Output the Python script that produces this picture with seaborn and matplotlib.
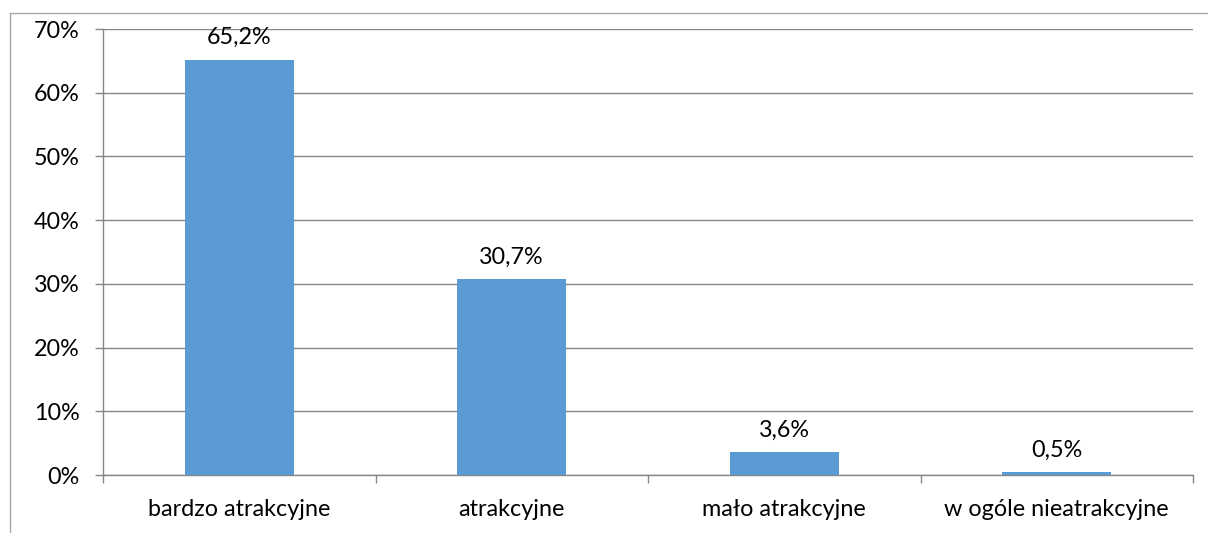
import matplotlib
matplotlib.use("Agg")
import matplotlib.pyplot as plt
from matplotlib.lines import Line2D
from matplotlib.ticker import FuncFormatter, MultipleLocator
import seaborn as sns
import pandas as pd

categories = ["bardzo atrakcyjne", "atrakcyjne", "mało atrakcyjne", "w ogóle nieatrakcyjne"]
values = [65.2, 30.7, 3.6, 0.5]
value_labels = ["65,2%", "30,7%", "3,6%", "0,5%"]

sns.set_theme(style="white")
plt.rcParams["font.family"] = ["Lato", "DejaVu Sans"]

W, H = 1208, 533
fig = plt.figure(figsize=(W / 100, H / 100), dpi=100)
ax = fig.add_axes([103 / W, 1 - 475 / H, (1193 - 103) / W, (475 - 29) / H])

df = pd.DataFrame({"cat": categories, "val": values})
sns.barplot(data=df, x="cat", y="val", color="#5B9BD5", saturation=1, width=0.4,
            linewidth=0, edgecolor="none", ax=ax, zorder=3)

ax.set_ylim(0, 70)
ax.set_xlim(-0.5, len(categories) - 0.5)
ax.yaxis.set_major_locator(MultipleLocator(10))
ax.yaxis.set_major_formatter(FuncFormatter(lambda v, p: f"{int(v)}%"))
ax.set_xlabel("")
ax.set_ylabel("")

fs = 16.8
grid_c = "#868686"
ax.grid(axis="y", color=grid_c, linewidth=1, zorder=0)
ax.set_axisbelow(True)
for s in ["top", "right"]:
    ax.spines[s].set_visible(False)
for s in ["left", "bottom"]:
    ax.spines[s].set_color(grid_c)
    ax.spines[s].set_linewidth(1)

ax.tick_params(axis="y", length=5.8, width=1, color=grid_c, labelsize=fs, labelcolor="black", left=True, pad=11)
ax.tick_params(axis="x", which="major", length=0, labelsize=fs, labelcolor="black", pad=17)
ax.set_xticks(range(len(categories)))
ax.set_xticklabels(categories)
ax.set_xticks([i + 0.5 for i in range(-1, len(categories))], minor=True)
ax.tick_params(axis="x", which="minor", length=5.8, width=1, color=grid_c, bottom=True)

for i, (v, lab) in enumerate(zip(values, value_labels)):
    ax.annotate(lab, xy=(i, v), xytext=(0, 11), textcoords="offset points",
                ha="center", va="baseline", fontsize=fs, color="black", zorder=4)

# outer frame of the chart area
frame_c = "#A6A6A6"
fig.add_artist(Line2D([10 / W, 10 / W], [0, 1 - 13 / H], transform=fig.transFigure, color=frame_c, linewidth=1))
fig.add_artist(Line2D([10 / W, 1], [1 - 13 / H, 1 - 13 / H], transform=fig.transFigure, color=frame_c, linewidth=1))

fig.savefig("out.png", dpi=100, facecolor="white")
